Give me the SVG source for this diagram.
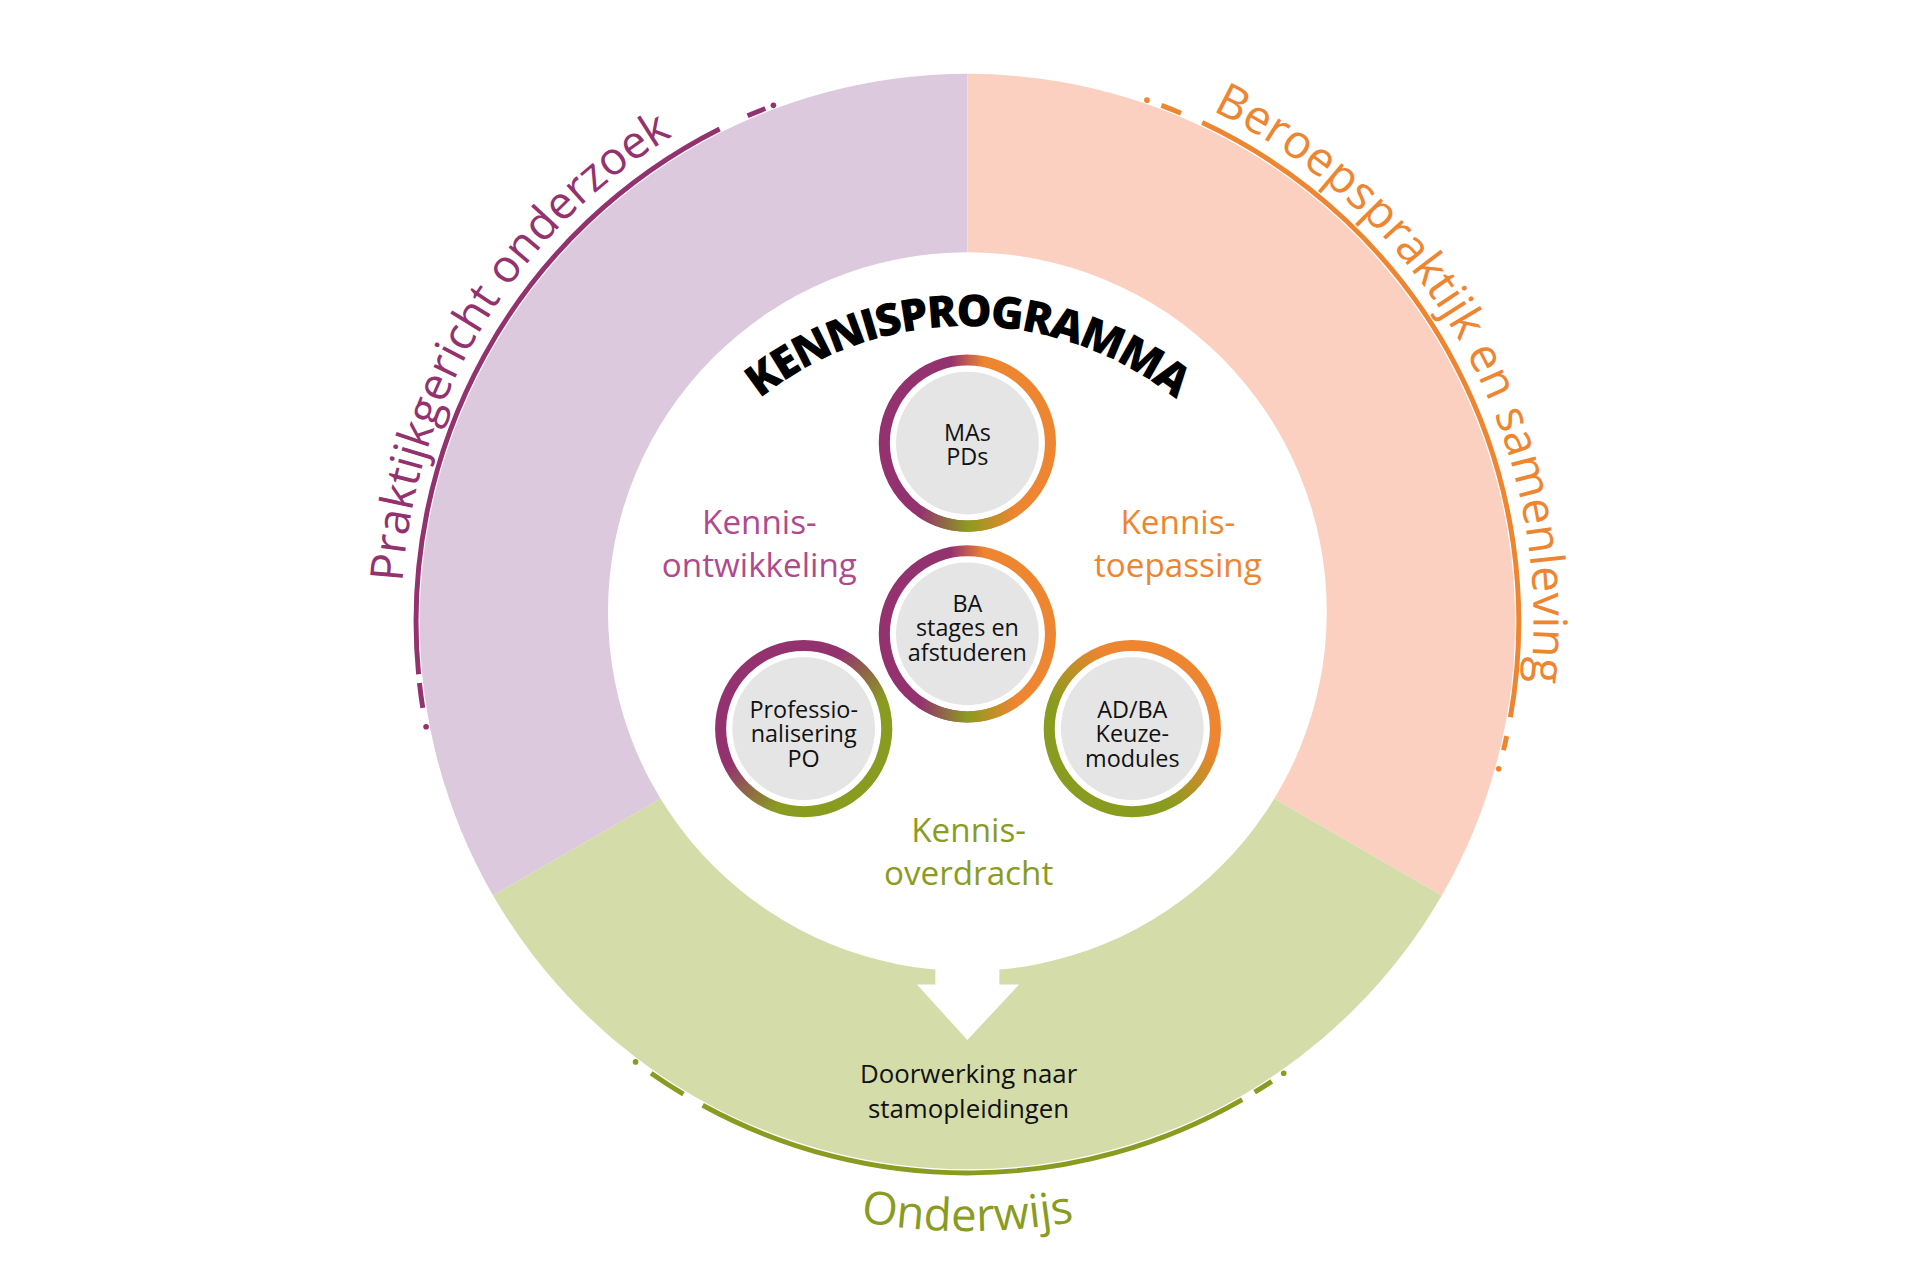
<svg xmlns="http://www.w3.org/2000/svg" width="1920" height="1280" viewBox="0 0 1920 1280">
<defs>
<style>
.ring{fill:none;stroke-width:4}
.t{font-family:"Open Sans","Noto Sans",sans-serif;text-anchor:middle}
.c{font-size:19px;fill:#111}
.lab{font-size:27px}
</style>
<linearGradient id="gTop" x1="0" y1="0" x2="1" y2="0"><stop offset="0.4" stop-color="#94326F"/><stop offset="0.6" stop-color="#EE8530"/></linearGradient>
<linearGradient id="gBot" x1="0" y1="0" x2="1" y2="0"><stop offset="0" stop-color="#94326F"/><stop offset="0.5" stop-color="#8A9C1F"/><stop offset="1" stop-color="#EE8530"/></linearGradient>
<linearGradient id="gL" x1="0" y1="0.2" x2="0.8" y2="1"><stop offset="0.35" stop-color="#94326F"/><stop offset="0.7" stop-color="#8A9C1F"/></linearGradient>
<linearGradient id="gR" x1="1" y1="0" x2="0.2" y2="0.9"><stop offset="0.4" stop-color="#EE8530"/><stop offset="0.75" stop-color="#8A9C1F"/></linearGradient>
<path id="pL" d="M327,473 A460 460 0 0 1 1246,505"/>
<path id="pR" d="M985,90 A460 460 0 0 1 1239,585"/>
<path id="pB" d="M486,899 A495 495 0 0 0 1086,899"/>
<path id="pK" d="M515,536 A271 271 0 0 1 1057,536"/>
</defs>
<rect width="1920" height="1280" fill="#fff"/>
<g transform="scale(1.230769)">
<g id="sectors">
<path d="M786,505 L786,60 A445 445 0 0 0 400.6,727.5 Z" fill="#DCC9DE"/>
<path d="M786,505 L786,60 A445 445 0 0 1 1171.4,727.5 Z" fill="#FBD0C0"/>
<path d="M786,505 L400.6,727.5 A445 445 0 0 0 1171.4,727.5 Z" fill="#D4DCA9"/>
<circle cx="786" cy="497" r="292" fill="#fff"/>
<path d="M760,780 H812 V800 H828 L786,845 L745,800 H760 Z" fill="#fff"/>
</g>
<g id="arcs">
<g stroke="#94326F" fill="#94326F">
<path class="ring" d="M340.1,547.9 A448 448 0 0 1 584.7,104.8"/>
<path class="ring" d="M607.4,94.1 A448 448 0 0 1 621.8,88.2"/>
<path class="ring" d="M343.5,575.1 A448 448 0 0 1 340.8,555"/>
<circle cx="628.4" cy="85.6" r="2.3" stroke="none"/>
<circle cx="346.2" cy="590.5" r="2.3" stroke="none"/>
</g>
<g stroke="#EE8530" fill="#EE8530">
<path class="ring" d="M976.8,99.6 A448 448 0 0 1 1227.2,582.8"/>
<path class="ring" d="M943.6,85.6 A448 448 0 0 1 959.6,92"/>
<path class="ring" d="M1224.2,598.1 A448 448 0 0 1 1221.6,609.6"/>
<circle cx="931.9" cy="81.4" r="2.3" stroke="none"/>
<circle cx="1217.7" cy="624.7" r="2.3" stroke="none"/>
</g>
<g stroke="#8A9C1F" fill="#8A9C1F">
<path class="ring" d="M570.9,898 A448 448 0 0 0 1009.3,893.4"/>
<path class="ring" d="M529,872 A448 448 0 0 0 555.3,889"/>
<path class="ring" d="M1019.4,887.4 A448 448 0 0 0 1033.3,878.6"/>
<circle cx="516.4" cy="862.8" r="2.3" stroke="none"/>
<circle cx="1043" cy="872" r="2.3" stroke="none"/>
</g>
</g>
<g id="outer-labels" class="t" style="text-anchor:start">
<text font-size="37" fill="#94326F"><textPath href="#pL">Praktijkgericht onderzoek</textPath></text>
<text font-size="38" fill="#EE8530"><textPath href="#pR">Beroepspraktijk en samenleving</textPath></text>
<text font-size="37" fill="#8A9C1F" style="text-anchor:middle"><textPath href="#pB" startOffset="50%">Onderwijs</textPath></text>
</g>
<g id="title">
<text class="t" font-size="36" font-weight="800" fill="#000" letter-spacing="-1.5"><textPath href="#pK" startOffset="50%">KENNISPROGRAMMA</textPath></text>
</g>
<g id="mid-labels" class="t lab">
<text x="617" y="434" fill="#B04A8E">Kennis-</text>
<text x="617" y="469" fill="#B04A8E">ontwikkeling</text>
<text x="957" y="434" fill="#EE8530">Kennis-</text>
<text x="957" y="469" fill="#EE8530">toepassing</text>
<text x="787" y="684" fill="#8A9C1F">Kennis-</text>
<text x="787" y="719" fill="#8A9C1F">overdracht</text>
</g>
<g id="node-top">
<circle cx="786" cy="360" r="67.5" fill="none" stroke="url(#gTop)" stroke-width="9"/>
<path d="M747.3,415.3 A67.5 67.5 0 0 0 824.7,415.3" fill="none" stroke="url(#gBot)" stroke-width="9"/>
<circle cx="786" cy="360" r="58" fill="#E5E5E5"/>
<text class="t c" x="786" y="358">MAs</text><text class="t c" x="786" y="378">PDs</text>
</g>
<g id="node-mid">
<circle cx="786" cy="515" r="67.5" fill="none" stroke="url(#gTop)" stroke-width="9"/>
<path d="M747.3,570.3 A67.5 67.5 0 0 0 824.7,570.3" fill="none" stroke="url(#gBot)" stroke-width="9"/>
<circle cx="786" cy="515" r="58" fill="#E5E5E5"/>
<text class="t c" x="786" y="497">BA</text><text class="t c" x="786" y="517">stages en</text><text class="t c" x="786" y="537">afstuderen</text>
</g>
<g id="node-left">
<circle cx="653" cy="592" r="67.5" fill="none" stroke="url(#gL)" stroke-width="9"/>
<circle cx="653" cy="592" r="58" fill="#E5E5E5"/>
<text class="t c" x="653" y="583">Professio-</text><text class="t c" x="653" y="603">nalisering</text><text class="t c" x="653" y="623">PO</text>
</g>
<g id="node-right">
<circle cx="920" cy="592" r="67.5" fill="none" stroke="url(#gR)" stroke-width="9"/>
<circle cx="920" cy="592" r="58" fill="#E5E5E5"/>
<text class="t c" x="920" y="583">AD/BA</text><text class="t c" x="920" y="603">Keuze-</text><text class="t c" x="920" y="623">modules</text>
</g>
<g id="bottom-text" class="t">
<text x="787" y="880" font-size="21" fill="#111">Doorwerking naar</text>
<text x="787" y="908" font-size="21" fill="#111">stamopleidingen</text>
</g>
</g>
</svg>
